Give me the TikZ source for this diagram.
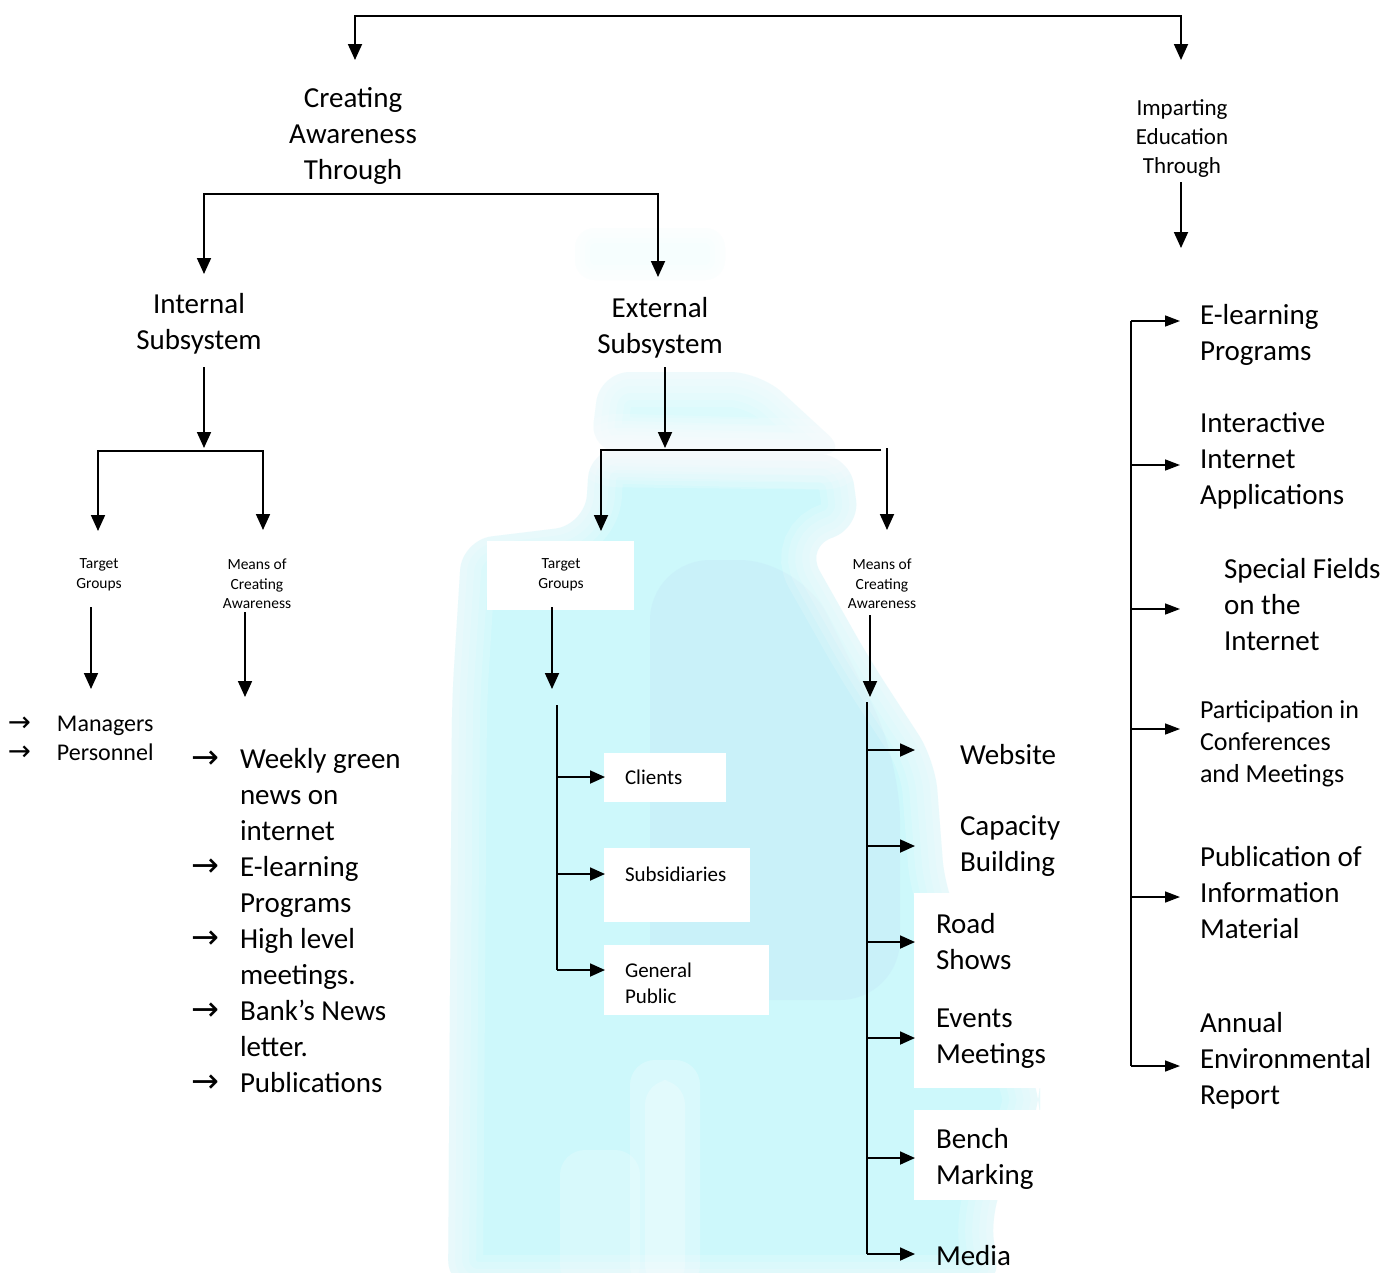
\documentclass[tikz,border=0pt]{standalone}
\usepackage{fontspec}
\setmainfont{Carlito}
\newfontfamily\arrowfont{DejaVu Sans}[Scale=1.15]
\usetikzlibrary{arrows.meta}
\definecolor{bgc}{RGB}{205,248,251}
\definecolor{bgb}{RGB}{198,236,249}
\newcommand\blobshape[1]{\path[#1] (590,448) -- (850,455) -- (860,530) -- (805,545) -- (870,660) -- (935,760) -- (945,890) -- (1040,1090) -- (1040,1110) -- (990,1210) -- (1000,1290) -- (448,1290) -- (452,700) -- (462,540) -- (585,525) -- cycle;}
\newcommand\blobtop[1]{\path[#1] (600,372) -- (760,372) -- (850,455) -- (590,452) -- cycle;}
\newcommand\arr{{\arrowfont →}}
\begin{document}
\begin{tikzpicture}[x=1pt,y=-1pt,
  every node/.style={inner sep=0pt,outer sep=0pt},
  fbig/.style={font=\fontsize{29}{36}\selectfont},
  fimp/.style={font=\fontsize{23}{29}\selectfont},
  fsmall/.style={font=\fontsize{15.5}{19.5}\selectfont},
  fmid/.style={font=\fontsize{24}{29}\selectfont},
  fbox/.style={font=\fontsize{21}{26}\selectfont},
  fpart/.style={font=\fontsize{26}{32}\selectfont},
  ctr/.style={align=center},
  lft/.style={anchor=west,align=left},
  conn/.style={line width=1.8pt,-{Triangle[length=16pt,width=14pt]}},
  conn2/.style={line width=1.8pt,{Triangle[length=16pt,width=14pt]}-{Triangle[length=16pt,width=14pt]}},
  branch/.style={line width=1.8pt,-{Triangle[length=15pt,width=13pt]}},
  rbranch/.style={line width=1.5pt,-{Triangle[length=15pt,width=11pt]}},
  wbox/.style={fill=white}]
\useasboundingbox[fill=white] (0,0) rectangle (1384,1272);

% background watermark
\begin{scope}
\clip (0,0) rectangle (1384,1272);
\fill[bgc!18,rounded corners=20pt] (575,228) rectangle (725,280);
\foreach \w in {30,20,10}{\draw[white,opacity=0.3,line width=\w pt,rounded corners=20pt] (575,228) rectangle (725,280);}
\blobtop{fill=bgc!70,rounded corners=30pt}
\blobshape{fill=bgc,rounded corners=30pt}
\fill[bgb,opacity=0.5,rounded corners=60pt] (650,560) -- (800,560) -- (900,760) -- (900,1000) -- (650,1000) -- cycle;
\fill[white,opacity=0.25,rounded corners=25pt] (630,1060) rectangle (700,1290);
\fill[white,opacity=0.25,rounded corners=25pt] (645,1080) rectangle (685,1290);
\fill[white,opacity=0.2,rounded corners=25pt] (560,1150) rectangle (640,1290);
\foreach \w in {70,56,42,28,14}{
  \blobshape{draw=white,opacity=0.16,line width=\w pt,rounded corners=30pt}
  \blobtop{draw=white,opacity=0.16,line width=\w pt,rounded corners=30pt}
}
\end{scope}

% white boxes behind labels
\fill[wbox] (487,541) rectangle (634,610);
\fill[wbox] (604,753) rectangle (726,802);
\fill[wbox] (604,848) rectangle (750,922);
\fill[wbox] (604,945) rectangle (769,1015);
\fill[wbox] (914,893) rectangle (1060,1088);
\fill[wbox] (914,1110) rectangle (1060,1200);

% nodes
\node[fbig,ctr] (ca) at (353,136) {Creating\\Awareness\\Through};
\node[fimp,ctr] (ie) at (1182,138.5) {Imparting\\Education\\Through};
\node[fbig,ctr] (is) at (199,324) {Internal\\Subsystem};
\node[fbig,ctr] (es) at (660,328) {External\\Subsystem};
\node[fsmall,ctr] (itg) at (99,575) {Target\\Groups};
\node[fsmall,ctr] (imc) at (257,584) {Means of\\Creating\\Awareness};
\node[fsmall,ctr] (etg) at (561,575) {Target\\Groups};
\node[fsmall,ctr] (emc) at (882,584) {Means of\\Creating\\Awareness};

\node[fmid,anchor=west] (mp) at (8,740.5) {\begin{tabular}{@{}p{49pt}@{}l@{}}\arr & Managers\\ \arr & Personnel\end{tabular}};
\node[fbig,anchor=west] (wl) at (191,923) {\begin{tabular}{@{}p{49pt}@{}l@{}}\arr & Weekly green\\ & news on\\ & internet\\ \arr & E-learning\\ & Programs\\ \arr & High level\\ & meetings.\\ \arr & Bank’s News\\ & letter.\\ \arr & Publications\end{tabular}};

\node[fbox,lft] (cl) at (625,777) {Clients};
\node[fbox,lft] (su) at (625,874) {Subsidiaries};
\node[fbox,lft] (gp) at (625,983) {General\\Public};

\node[fbig,lft] (we) at (960,755) {Website};
\node[fbig,lft] (cb) at (960,846) {Capacity\\Building};
\node[fbig,lft] (rs) at (936,942) {Road\\Shows};
\node[fbig,lft] (em) at (936,1039) {Events\\Meetings};
\node[fbig,lft] (bm) at (936,1159) {Bench\\Marking};
\node[fbig,lft] (me) at (936,1256) {Media};

\node[fbig,lft] (el) at (1200,335) {E-learning\\Programs};
\node[fbig,lft] (ii) at (1200,461) {Interactive\\Internet\\Applications};
\node[fbig,lft] (sf) at (1224,605) {Special Fields\\on the\\Internet};
\node[fpart,lft] (pc) at (1200,744) {Participation in\\Conferences\\and Meetings};
\node[fbig,lft] (pi) at (1200,893) {Publication of\\Information\\Material};
\node[fbig,lft] (ae) at (1200,1061) {Annual\\Environmental\\Report};

% coordinates
\coordinate (caTip) at (355,60);
\coordinate (topR) at (1181,16);
\coordinate (ieTip) at (1181,60);
\coordinate (isTip) at (204,274);
\coordinate (caBarR) at (658,194);
\coordinate (esTip) at (658,277);
\coordinate (ieA) at (1181,182);
\coordinate (ieB) at (1181,248);
\coordinate (isA) at (204,367);
\coordinate (isB) at (204,448);
\coordinate (itgTip) at (98,531);
\coordinate (isBarR) at (263,451);
\coordinate (imcTip) at (263,530);
\coordinate (itgA) at (91,607);
\coordinate (itgB) at (91,689);
\coordinate (imcA) at (245,612);
\coordinate (imcB) at (245,697);
\coordinate (esA) at (665,367);
\coordinate (esB) at (665,448);
\coordinate (etgTip) at (601,531);
\coordinate (esBarR) at (881,450);
\coordinate (emcA) at (887,448);
\coordinate (emcTip) at (887,530);
\coordinate (etgA) at (552,607);
\coordinate (etgB) at (552,689);
\coordinate (tgTop) at (557,705);
\coordinate (tgBot) at (557,970);
\coordinate (emA) at (870,615);
\coordinate (emB) at (870,697);
\coordinate (mcTop) at (867,702);
\coordinate (mcBot) at (867,1254);
\coordinate (rTop) at (1131,321);
\coordinate (rBot) at (1131,1066);

% connectors
\draw[conn2] (caTip) |- (topR) -- (ieTip);
\draw[conn2] (isTip) |- (caBarR) -- (esTip);
\draw[conn] (ieA) -- (ieB);
\draw[conn] (isA) -- (isB);
\draw[conn2] (itgTip) |- (isBarR) -- (imcTip);
\draw[conn] (itgA) -- (itgB);
\draw[conn] (imcA) -- (imcB);
\draw[conn] (esA) -- (esB);
\draw[conn] (esBarR) -| (etgTip);
\draw[conn] (emcA) -- (emcTip);
\draw[conn] (etgA) -- (etgB);
\draw[conn] (emA) -- (emB);

\draw[line width=1.8pt] (tgTop) -- (tgBot);
\draw[branch] (tgTop |- cl.west) -- ([xshift=-20pt]cl.west);
\draw[branch] (tgTop |- su.west) -- ([xshift=-20pt]su.west);
\draw[branch] (tgBot) -- (605,970);

\draw[line width=1.8pt] (mcTop) -- (mcBot);
\foreach \y/\n in {750/a,846/b,942/c,1038/d,1158/e,1254/f}{
  \coordinate (mc\n) at (867,\y);
  \draw[branch] (mc\n) -- ++(48,0);
}
\draw[line width=1.5pt] (rTop) -- (rBot);
\foreach \y/\n in {321/a,465/b,609/c,729/d,897/e,1066/f}{
  \coordinate (rc\n) at (1131,\y);
  \draw[rbranch] (rc\n) -- ++(49,0);
}
\end{tikzpicture}
\end{document}
